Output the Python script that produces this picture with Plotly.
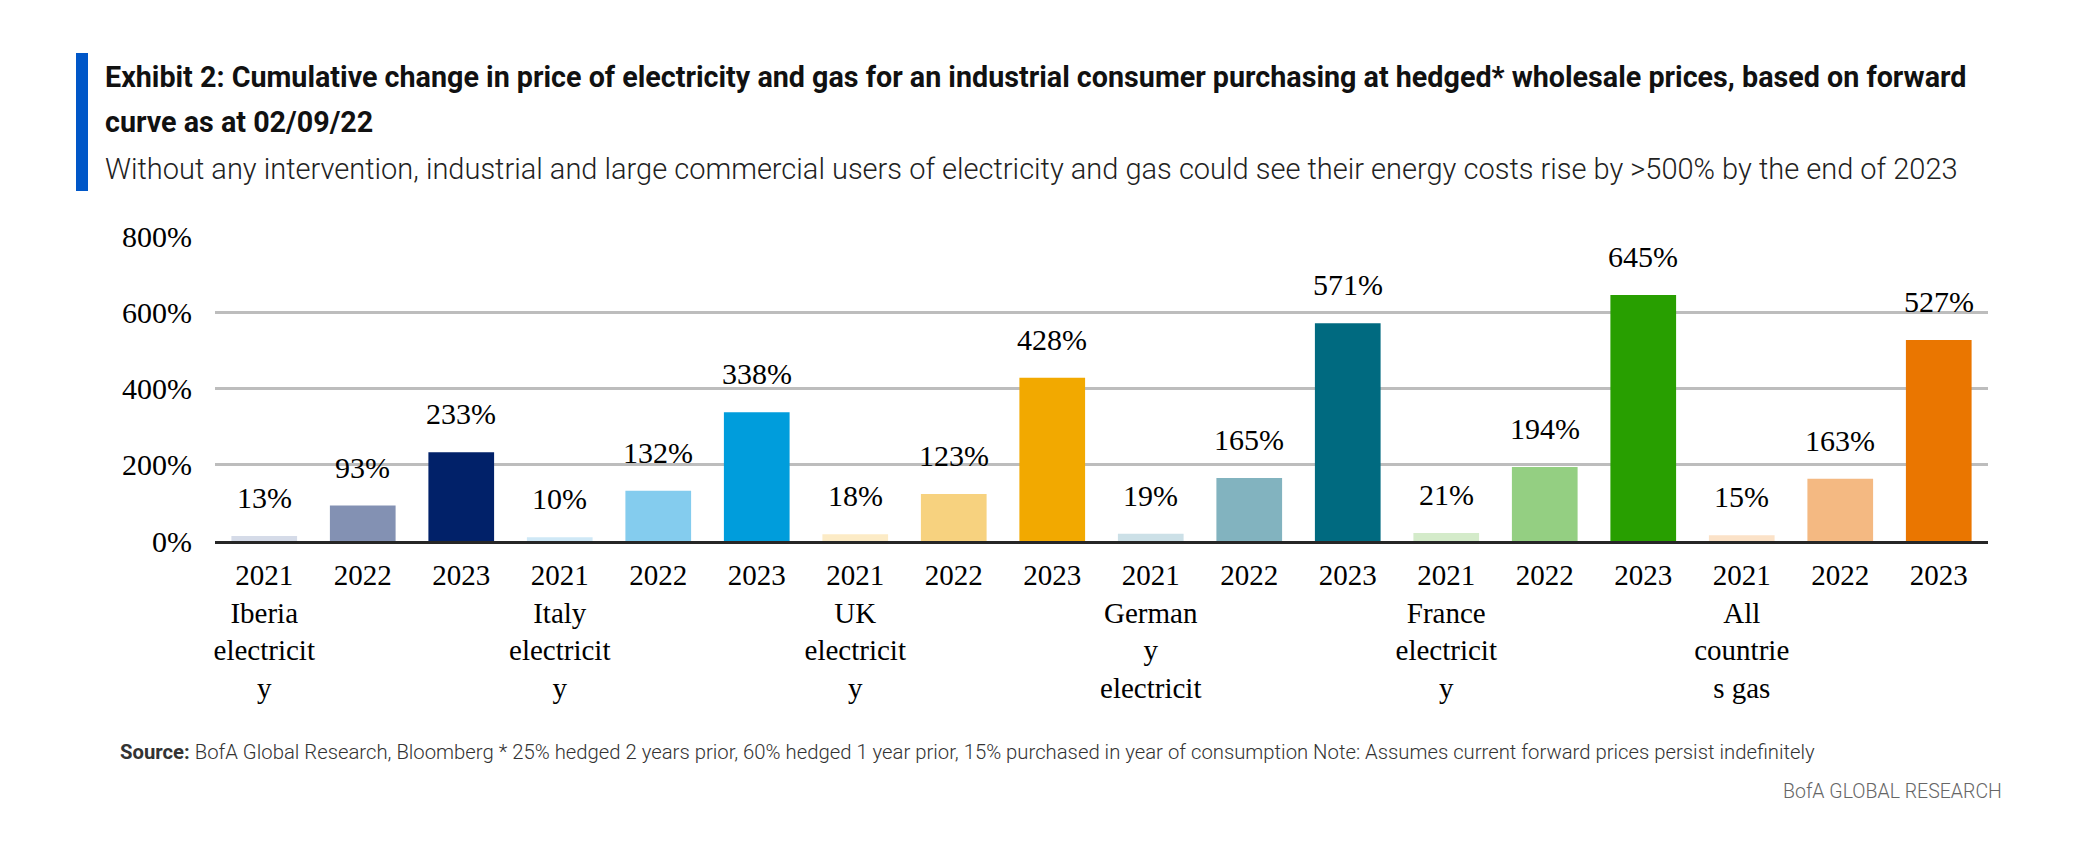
import plotly.graph_objects as go

# ---------------- data ----------------
years = ["2021", "2022", "2023"]
group_labels = [
    "Iberia<br>electricit<br>y",
    "Italy<br>electricit<br>y",
    "UK<br>electricit<br>y",
    "German<br>y<br>electricit",
    "France<br>electricit<br>y",
    "All<br>countrie<br>s gas",
]
iberia = [13, 93, 233]
italy = [10, 132, 338]
uk = [18, 123, 428]
germany = [19, 165, 571]
france = [21, 194, 645]
all_gas = [15, 163, 527]
series = [iberia, italy, uk, germany, france, all_gas]

bar_colors = [
    "#d5dbe8", "#8391b3", "#012169",
    "#cfe8f6", "#84ccee", "#009ddc",
    "#fcebc6", "#f7d27f", "#f2a900",
    "#cce0e7", "#82b3bf", "#006a80",
    "#d4ebca", "#94cf82", "#289f00",
    "#fbe2c8", "#f4b982", "#ea7600",
]

y_tick_vals = [0, 200, 400, 600, 800]
y_tick_text = ["0%", "200%", "400%", "600%", "800%"]

title_line1 = ("Exhibit 2: Cumulative change in price of electricity and gas for an industrial "
               "consumer purchasing at hedged* wholesale prices, based on forward")
title_line2 = "curve as at 02/09/22"
subtitle = ("Without any intervention, industrial and large commercial users of electricity "
            "and gas could see their energy costs rise by >500% by the end of 2023")
footer = ("<b>Source:</b> BofA Global Research, Bloomberg * 25% hedged 2 years prior, 60% hedged "
          "1 year prior, 15% purchased in year of consumption Note: Assumes current forward "
          "prices persist indefinitely")
brand = "BofA GLOBAL RESEARCH"

# ---------------- build ----------------
cats, vals, tick_text = [], [], []
for gi, (glabel, svals) in enumerate(zip(group_labels, series)):
    for yi, (yr, v) in enumerate(zip(years, svals)):
        cats.append(f"g{gi}-{yr}")
        vals.append(v)
        tick_text.append(yr + ("<br>" + glabel if yi == 0 else ""))

W, H = 2095, 841
L, R, T, B = 215, 107, 236, 300
pw, ph = W - L - R, H - T - B


def px_x(px):
    return (px - L) / pw


def px_y(py):
    return (H - B - py) / ph


serif = "Liberation Serif, Times New Roman, serif"
sans = "Roboto, sans-serif"

fig = go.Figure()
fig.add_trace(go.Bar(
    x=cats, y=vals,
    marker=dict(color=bar_colors, line=dict(width=0)),
    hoverinfo="skip",
))

annotations = []
for c, v in zip(cats, vals):
    annotations.append(dict(
        x=c, y=v, xref="x", yref="y", text=f"{v}%", showarrow=False,
        yanchor="bottom", xanchor="center", yshift=20,
        font=dict(family=serif, size=30, color="#000000"),
    ))

annotations += [
    dict(x=px_x(103), y=px_y(77), xref="paper", yref="paper", text=f"<b>{title_line1}</b>",
         showarrow=False, xanchor="left", yanchor="middle",
         font=dict(family=sans, size=28.7, color="#111111")),
    dict(x=px_x(103), y=px_y(122), xref="paper", yref="paper", text=f"<b>{title_line2}</b>",
         showarrow=False, xanchor="left", yanchor="middle",
         font=dict(family=sans, size=28.7, color="#111111")),
    dict(x=px_x(103), y=px_y(169), xref="paper", yref="paper", text=subtitle,
         showarrow=False, xanchor="left", yanchor="middle",
         font=dict(family=sans, size=29, color="#222222", weight=300)),
    dict(x=px_x(118), y=px_y(752), xref="paper", yref="paper", text=footer,
         showarrow=False, xanchor="left", yanchor="middle",
         font=dict(family=sans, size=20.3, color="#333333", weight=300)),
    dict(x=px_x(2004), y=px_y(791), xref="paper", yref="paper", text=brand,
         showarrow=False, xanchor="right", yanchor="middle",
         font=dict(family=sans, size=19.5, color="#666666", weight=300)),
]

shapes = [dict(type="rect", xref="paper", yref="paper",
               x0=px_x(76), x1=px_x(88), y0=px_y(191), y1=px_y(53),
               fillcolor="#0057c8", line=dict(width=0), layer="above")]

fig.update_layout(
    width=W, height=H,
    margin=dict(l=L, r=R, t=T, b=B, autoexpand=False),
    paper_bgcolor="white", plot_bgcolor="white",
    bargap=0.333,
    showlegend=False,
    annotations=annotations,
    shapes=shapes,
    xaxis=dict(
        type="category", tickmode="array", tickvals=cats, ticktext=tick_text,
        tickfont=dict(family=serif, size=29, color="#000000"),
        showline=True, linecolor="#262626", linewidth=3,
        showgrid=False, ticks="", ticklabelstandoff=6, automargin=False,
    ),
    yaxis=dict(
        range=[0, 800], tickmode="array", tickvals=y_tick_vals, ticktext=y_tick_text,
        tickfont=dict(family=serif, size=30, color="#000000"),
        showgrid=True, gridcolor="#bdbdbd", gridwidth=3,
        zeroline=False, showline=False, ticks="", ticklabelstandoff=22, automargin=False,
    ),
)

fig.write_html("out.html")
